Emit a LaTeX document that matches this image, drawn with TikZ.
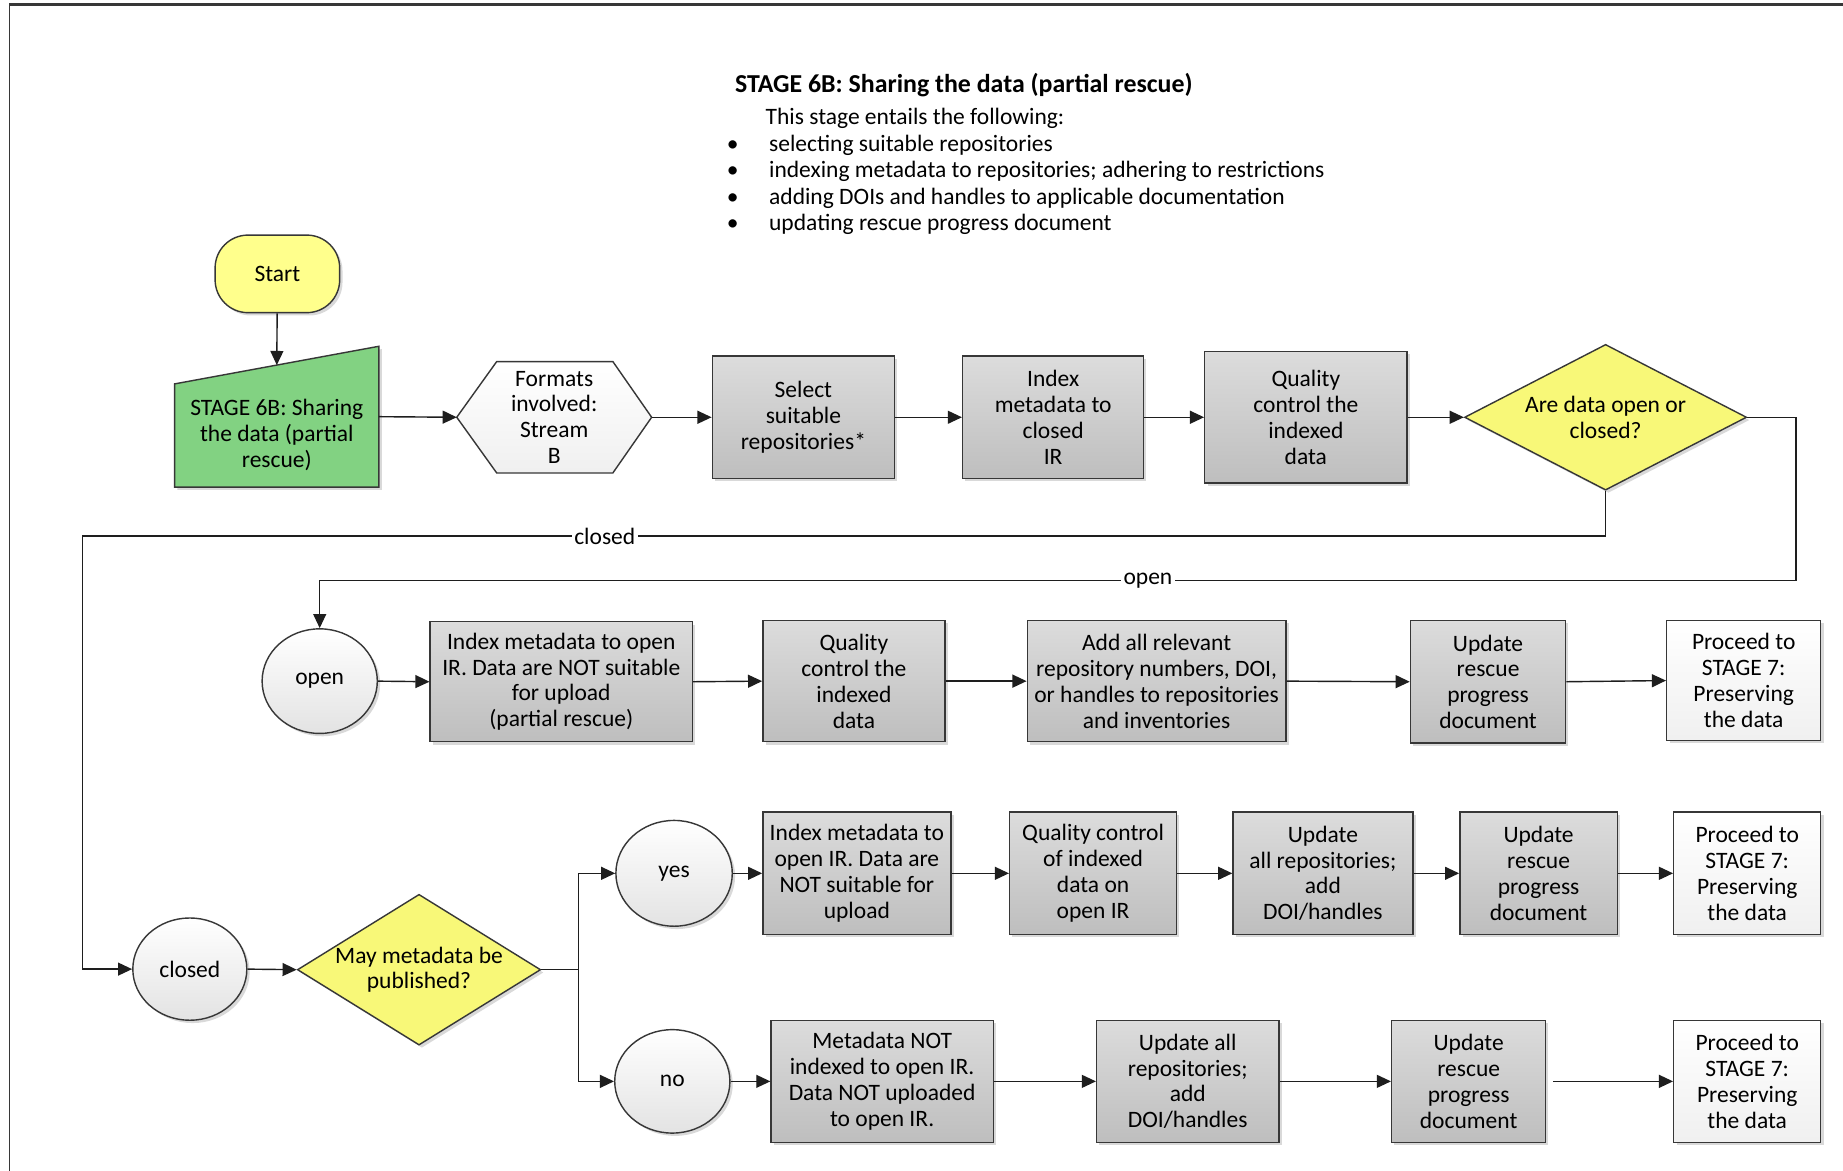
\documentclass[tikz,border=0pt]{standalone}
\usepackage{fontspec}
\setmainfont{Carlito}
\usetikzlibrary{shapes.geometric,shadows,arrows.meta,calc}
\pgfdeclarelayer{bg}
\pgfsetlayers{bg,main}
\definecolor{boxtop}{RGB}{220,220,220}
\definecolor{boxbot}{RGB}{190,190,190}
\definecolor{edge}{RGB}{55,55,55}
\definecolor{startyel}{RGB}{255,255,140}
\definecolor{decyel}{RGB}{248,248,120}
\definecolor{stagegreen}{RGB}{130,210,130}
\definecolor{linegray}{RGB}{30,30,30}
\begin{document}
\begin{tikzpicture}[x=0.5pt,y=-0.5pt,
  font=\fontsize{10}{11}\selectfont,
  softshadow/.style={drop shadow={shadow xshift=1.2pt,shadow yshift=-1.2pt,fill=black,opacity=0.15}},
  proc/.style={draw=edge,line width=0.6pt,top color=boxtop,bottom color=boxbot,
    align=center,inner sep=1pt,softshadow},
  endbox/.style={proc,top color=white,bottom color=gray!12},
  circ/.style={ellipse,draw=edge,line width=0.6pt,inner sep=0pt,
    top color=white,bottom color=gray!22,softshadow},
  dec/.style={diamond,aspect=2,draw=edge,line width=0.6pt,fill=decyel,
    inner sep=0pt,align=center,softshadow},
  startbox/.style={draw=edge,line width=0.6pt,fill=startyel,rounded corners=14pt,
    minimum width=53pt,minimum height=33pt,softshadow},
  plain/.style={inner sep=0pt,anchor=west},
  lbl/.style={fill=white,inner sep=1pt},
  arr/.style={draw=linegray,line width=0.6pt,-{Triangle[length=6pt,width=5.5pt]}}]

\useasboundingbox (0,0) rectangle (1568,996);
\begin{pgfonlayer}{bg}
  \fill[white] (0,0) rectangle (1568,996);
\end{pgfonlayer}

% outer frame
\draw[line width=1.2pt,edge] (8,4) -- (1568,4);
\draw[line width=0.6pt,edge] (8,4) -- (8,996);

% heading and list
\node[plain,font=\fontsize{11}{12}\selectfont\bfseries] (ttl) at (625,72) {STAGE 6B: Sharing the data (partial rescue)};
\node[plain] (intro) at (651,101) {This stage entails the following:};
\node[plain] (b1) at (618,124) {\makebox[18pt][l]{\textbullet}selecting suitable repositories};
\node[plain] (b2) at (618,146) {\makebox[18pt][l]{\textbullet}indexing metadata to repositories; adhering to restrictions};
\node[plain] (b3) at (618,169) {\makebox[18pt][l]{\textbullet}adding DOIs and handles to applicable documentation};
\node[plain] (b4) at (618,191) {\makebox[18pt][l]{\textbullet}updating rescue progress document};

% first row
\node[startbox] (start) at (236,233) {Start};

\node[inner sep=0pt,minimum width=86.5pt,minimum height=59.5pt] (stage) at (235.5,354.5) {};
\begin{pgfonlayer}{bg}
  \draw[edge,line width=0.6pt,fill=stagegreen,softshadow]
    (stage.south west) -- ([yshift=-16pt]stage.north west) -- (stage.north east)
    -- (stage.south east) -- cycle;
\end{pgfonlayer}
\node[align=center,inner sep=0pt] (stagetxt) at (235.5,370) {STAGE 6B: Sharing\\the data (partial\\rescue)};

\node[inner sep=0pt,minimum width=82.5pt,minimum height=47pt,align=center] (fmt) at (471.5,355) {Formats\\involved:\\Stream\\B};
\begin{pgfonlayer}{bg}
  \draw[edge,line width=0.6pt,top color=white,bottom color=gray!12]
    (fmt.west) -- ([xshift=17pt]fmt.north west) -- ([xshift=-16.5pt]fmt.north east)
    -- (fmt.east) -- ([xshift=-16.5pt]fmt.south east) -- ([xshift=17pt]fmt.south west) -- cycle;
\end{pgfonlayer}

\node[proc,minimum width=77.5pt,minimum height=52pt] (sel) at (683.5,355) {Select\\suitable\\repositories*};
\node[proc,minimum width=77pt,minimum height=52pt] (idx) at (896,355) {Index\\metadata to\\closed\\IR};
\node[proc,minimum width=86pt,minimum height=56pt] (qc) at (1111,355) {Quality\\control the\\indexed\\data};
\node[dec,minimum width=120pt,minimum height=62pt] (dec1) at (1366,355) {Are data open or\\closed?};

% open branch
\node[circ,minimum width=49pt,minimum height=44.5pt] (openc) at (272,579.5) {open};
\node[proc,minimum width=111.5pt,minimum height=51pt] (o1) at (477.5,580) {Index metadata to open\\IR. Data are NOT suitable\\for upload\\(partial rescue)};
\node[proc,minimum width=77.5pt,minimum height=51.5pt] (o2) at (726.5,579.5) {Quality\\control the\\indexed\\data};
\node[proc,minimum width=110pt,minimum height=51.5pt] (o3) at (984,579.5) {Add all relevant\\repository numbers, DOI,\\or handles to repositories\\and inventories};
\node[proc,minimum width=66pt,minimum height=52pt] (o4) at (1266,580) {Update\\rescue\\progress\\document};
\node[endbox,minimum width=65.5pt,minimum height=51pt] (o5) at (1483.5,579) {Proceed to\\STAGE 7:\\Preserving\\the data};

% closed branch
\node[circ,minimum width=48.5pt,minimum height=43.5pt] (closedc) at (161.5,824.5) {closed};
\node[dec,aspect=1.6,minimum width=103.5pt,minimum height=61pt] (dec2) at (356.5,825) {May metadata be\\published?};

\node[circ,minimum width=49.5pt,minimum height=45pt] (yesc) at (573.5,743) {yes};
\node[proc,minimum width=80pt,minimum height=52pt] (y1) at (729,743) {Index metadata to\\open IR. Data are\\NOT suitable for\\upload};
\node[proc,minimum width=71pt,minimum height=52pt] (y2) at (930,743) {Quality control\\of indexed\\data on\\open IR};
\node[proc,minimum width=76.5pt,minimum height=52pt] (y3) at (1125.5,743) {Update\\all repositories;\\add\\DOI/handles};
\node[proc,minimum width=67pt,minimum height=52pt] (y4) at (1309,743) {Update\\rescue\\progress\\document};
\node[endbox,minimum width=62.5pt,minimum height=52pt] (y5) at (1486.5,743) {Proceed to\\STAGE 7:\\Preserving\\the data};

\node[circ,minimum width=49pt,minimum height=44pt] (noc) at (572,920) {no};
\node[proc,minimum width=94.5pt,minimum height=52pt] (n1) at (750.5,920) {Metadata NOT\\indexed to open IR.\\Data NOT uploaded\\to open IR.};
\node[proc,minimum width=77.5pt,minimum height=52pt] (n2) at (1010.5,920) {Update all\\repositories;\\add\\DOI/handles};
\node[proc,minimum width=65.5pt,minimum height=52pt] (n3) at (1249.5,920) {Update\\rescue\\progress\\document};
\node[endbox,minimum width=62.5pt,minimum height=52pt] (n4) at (1486.5,920) {Proceed to\\STAGE 7:\\Preserving\\the data};

% routing points
\coordinate (cl0) at (1366,456);
\coordinate (cl1) at (70,456);
\coordinate (op1) at (1528,494);
\coordinate (op2) at (272,494);
\coordinate (br) at (492,825);

% connectors, first row
\draw[arr] (start) -- ([yshift=-8pt]stage.north);
\draw[arr] (stage.east) -- (fmt.west);
\draw[arr] (fmt.east) -- (sel.west);
\draw[arr] (sel.east) -- (idx.west);
\draw[arr] (idx.east) -- (qc.west);
\draw[arr] (qc.east) -- (dec1.west);

% decision outcomes
\draw[arr] (dec1.south) -- (cl0) -- node[lbl,pos=0.657] {closed} (cl1) |- (closedc.west);
\draw[arr] (dec1.east) -| (op1) -- node[lbl,pos=0.439] {open} (op2) -- (openc.north);

% open row
\draw[arr] (openc.east) -- (o1.west);
\draw[arr] (o1.east) -- (o2.west);
\draw[arr] (o2.east) -- (o3.west);
\draw[arr] (o3.east) -- (o4.west);
\draw[arr] (o4.east) -- (o5.west);

% closed rows
\draw[arr] (closedc.east) -- (dec2.west);
\draw[line width=0.6pt,draw=linegray] (dec2.east) -- (br);
\draw[arr] (br) |- (yesc.west);
\draw[arr] (br) |- (noc.west);

\draw[arr] (yesc.east) -- (y1.west);
\draw[arr] (y1.east) -- (y2.west);
\draw[arr] (y2.east) -- (y3.west);
\draw[arr] (y3.east) -- (y4.west);
\draw[arr] (y4.east) -- (y5.west);

\draw[arr] (noc.east) -- (n1.west);
\draw[arr] (n1.east) -- (n2.west);
\draw[arr] (n2.east) -- (n3.west);
\draw[arr] ([xshift=3pt]n3.east) -- (n4.west);
\end{tikzpicture}
\end{document}
